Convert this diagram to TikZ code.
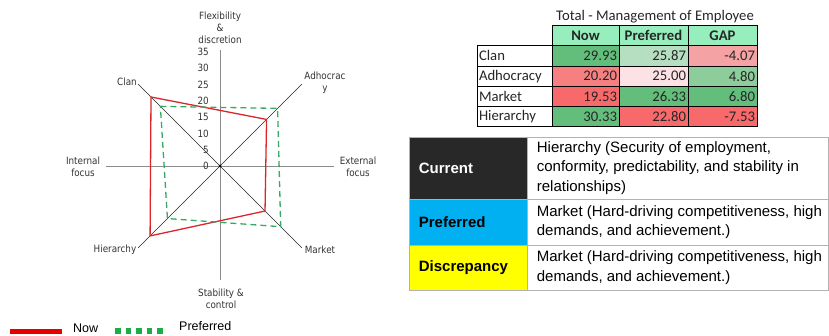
\documentclass[tikz,border=0pt]{standalone}
\usepackage{fontspec}
\setmainfont{Liberation Sans}
\newfontfamily\calibri{Carlito}
\newfontfamily\chartfont[FakeStretch=0.88]{DejaVu Sans}
\usepackage{tikz}
\usetikzlibrary{positioning}
\definecolor{nowRed}{RGB}{218,38,42}
\definecolor{prefGreen}{RGB}{52,170,98}
\definecolor{legRed}{RGB}{230,0,0}
\definecolor{legGreen}{RGB}{30,172,70}
\definecolor{hdrMint}{RGB}{150,238,188}
\definecolor{xlGreen}{RGB}{99,190,123}
\definecolor{mdGreen}{RGB}{140,205,155}
\definecolor{lgGreen}{RGB}{182,222,192}
\definecolor{xlRed}{RGB}{248,105,107}
\definecolor{mdRed}{RGB}{246,128,128}
\definecolor{ltRed}{RGB}{245,162,164}
\definecolor{paleRed}{RGB}{252,226,228}
\definecolor{curDark}{RGB}{40,40,40}
\definecolor{prefCyan}{RGB}{0,176,240}
\definecolor{discYellow}{RGB}{255,255,0}

\begin{document}
\begin{tikzpicture}[x=1pt, y=-1pt, every node/.style={inner sep=0pt},
	lbl/.style={font=\chartfont\fontsize{10}{12}\selectfont, text=black!80, align=center},
	tick/.style={font=\chartfont\fontsize{10}{12}\selectfont, text=black!80, anchor=east},
	cell/.style={draw=black, line width=0.7pt, minimum height=20.25pt, inner xsep=2pt,
		font=\calibri\fontsize{14.7}{16}\selectfont, text=black!85},
	cvf/.style={draw=black!30, line width=0.7pt, minimum width=118pt},
	cvftxt/.style={anchor=west, align=left, font=\fontsize{15}{19.5}\selectfont}]
	\useasboundingbox (0,0) rectangle (829,336);
	% radar chart
	\begin{scope}[shift={(220,166)}, x=3.26pt, y=3.26pt]
		\coordinate (O) at (0,0);
		\draw[black!45, line width=0.8pt] (0,35.5) -- (0,-35);
		\draw[black!45, line width=0.8pt] (-35,0) -- (35,0);
		\draw[black!85, line width=0.6pt] (135:35.5) -- (-45:35.5);
		\draw[black!85, line width=0.6pt] (45:35.5) -- (-135:35.5);
		\fill[black] (O) circle[radius=1.5pt];
		\foreach \v in {0,5,...,35}
			\node[tick] (tk\v) at (-3.4,\v) {\v};
		\draw[nowRed, line width=1.3pt, line join=miter] (135:29.93) -- (45:20.20) -- (-45:19.53) -- (-135:30.33) -- cycle;
		\draw[prefGreen, line width=1.3pt, dash pattern=on 6pt off 4pt] (135:25.87) -- (45:25.00) -- (-45:26.33) -- (-135:22.80) -- cycle;
	\end{scope}
	\node[lbl] (flex) at (220,28) {Flexibility\\\&\\discretion};
	\node[lbl] (adho) at (325,83) {Adhocrac\\y};
	\node[lbl, anchor=east] (clan) at (137,82) {Clan};
	\node[lbl] (intf) at (83,167) {Internal\\focus};
	\node[lbl] (extf) at (358,167) {External\\focus};
	\node[lbl] (hier) at (115,250) {Hierarchy};
	\node[lbl] (mkt) at (320,250) {Market};
	\node[lbl] (stab) at (221,298.5) {Stability \&\\control};
	% legend
	\coordinate (nowA) at (10,331.5);
	\coordinate (nowB) at (62,331.5);
	\draw[legRed, line width=5pt] (nowA) -- (nowB);
	\node[anchor=west, font=\fontsize{12.5}{14}\selectfont] (nowT) at (73,328) {Now};
	\coordinate (prefA) at (115,331);
	\coordinate (prefB) at (165,331);
	\draw[legGreen, line width=5.5pt, dash pattern=on 5.5pt off 5pt] (prefA) -- (prefB);
	\node[anchor=west, font=\fontsize{12.5}{14}\selectfont] (prefT) at (179,326) {Preferred};
	% score table
	\node[font=\calibri\fontsize{14.7}{16}\selectfont, text=black!85] (ttl) at (655,17) {Total - Management of Employee};
	\node[cell, fill=hdrMint, minimum width=67pt, font=\calibri\bfseries\fontsize{14.7}{16}\selectfont] (hNow) at (585.5,35.7) {Now};
	\node[cell, fill=hdrMint, minimum width=69pt, font=\calibri\bfseries\fontsize{14.7}{16}\selectfont] (hPref) at (653.5,35.7) {Preferred};
	\node[cell, fill=hdrMint, minimum width=69pt, font=\calibri\bfseries\fontsize{14.7}{16}\selectfont] (hGap) at (722.5,35.7) {GAP};
	\foreach \rname/\ry/\va/\fa/\vb/\fb/\vc/\fc in {
		Clan/55.9/29.93/xlGreen/25.87/lgGreen/-4.07/ltRed,
		Adhocracy/76.15/20.20/mdRed/25.00/paleRed/4.80/mdGreen,
		Market/96.4/19.53/xlRed/26.33/xlGreen/6.80/xlGreen,
		Hierarchy/116.65/30.33/xlGreen/22.80/xlRed/-7.53/xlRed}{
		\node[cell, text width=71pt, align=left] (n\rname) at (514.5,\ry) {\rname};
		\node[cell, text width=63pt, align=right, fill=\fa] (a\rname) at (585.5,\ry) {\va};
		\node[cell, text width=65pt, align=right, fill=\fb] (b\rname) at (653.5,\ry) {\vb};
		\node[cell, text width=65pt, align=right, fill=\fc] (c\rname) at (722.5,\ry) {\vc};
	}
	% culture profile box
	\node[cvf, fill=curDark, minimum height=62pt] (cur) at (468,168) {};
	\node[cvf, fill=prefCyan, minimum height=46pt] (pref) at (468,222) {};
	\node[cvf, fill=discYellow, minimum height=45pt] (disc) at (468,267.5) {};
	\node[cvf, minimum width=301pt, minimum height=62pt] (curD) at (677.5,168) {};
	\node[cvf, minimum width=301pt, minimum height=46pt] (prefD) at (677.5,222) {};
	\node[cvf, minimum width=301pt, minimum height=45pt] (discD) at (677.5,267.5) {};
	\node[cvftxt, text=white] (curL) at ([xshift=10pt]cur.west) {\bfseries Current};
	\node[cvftxt] (prefL) at ([xshift=10pt]pref.west) {\bfseries Preferred};
	\node[cvftxt] (discL) at ([xshift=10pt]disc.west) {\bfseries Discrepancy};
	\node[cvftxt] (curR) at ([xshift=10pt]curD.west) {Hierarchy (Security of employment,\\conformity, predictability, and stability in\\relationships)};
	\node[cvftxt] (prefR) at ([xshift=10pt]prefD.west) {Market (Hard-driving competitiveness, high\\demands, and achievement.)};
	\node[cvftxt] (discR) at ([xshift=10pt]discD.west) {Market (Hard-driving competitiveness, high\\demands, and achievement.)};
\end{tikzpicture}
\end{document}
